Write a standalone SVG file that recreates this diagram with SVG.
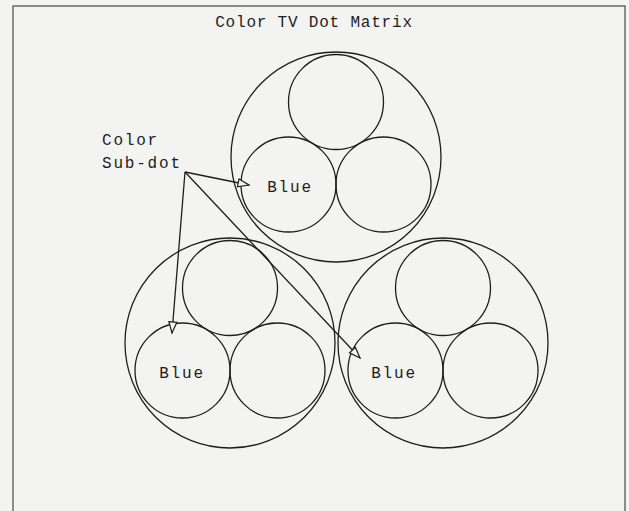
<svg xmlns="http://www.w3.org/2000/svg" width="629" height="511" viewBox="0 0 629 511">
<defs>
<style>
.c{fill:none;stroke:#1e1e1e;stroke-width:1.3}
.t{font-family:"Liberation Mono","DejaVu Sans Mono",monospace;font-size:16px;fill:#1e1e1e;letter-spacing:1.8px}
.title{letter-spacing:0.8px}
.a{fill:none;stroke:#1e1e1e;stroke-width:1.3}
</style>
<marker id="ah" markerWidth="14" markerHeight="12" refX="12" refY="5" orient="auto" markerUnits="userSpaceOnUse">
<path d="M1,1 L12,5 L1,9 Z" fill="#f3f3f1" stroke="#1e1e1e" stroke-width="1.2"/>
</marker>
</defs>
<rect x="0" y="0" width="629" height="511" fill="#f3f3f1"/>
<rect x="13" y="6" width="612" height="510" fill="none" stroke="#555" stroke-width="1.3"/>
<text class="t title" x="314" y="27" text-anchor="middle">Color TV Dot Matrix</text>
<g id="dot-top">
<circle class="c" cx="336" cy="157" r="105"/>
<circle class="c" cx="336" cy="102" r="47.5"/>
<circle class="c" cx="288.5" cy="184.5" r="47.5"/>
<circle class="c" cx="383.5" cy="184.5" r="47.5"/>
<text class="t" x="290" y="192" text-anchor="middle">Blue</text>
</g>
<g id="dot-left">
<circle class="c" cx="230" cy="343" r="105"/>
<circle class="c" cx="230" cy="288" r="47.5"/>
<circle class="c" cx="182.5" cy="370.5" r="47.5"/>
<circle class="c" cx="277.5" cy="370.5" r="47.5"/>
<text class="t" x="182" y="378" text-anchor="middle">Blue</text>
</g>
<g id="dot-right">
<circle class="c" cx="443" cy="343" r="105"/>
<circle class="c" cx="443" cy="288" r="47.5"/>
<circle class="c" cx="395.5" cy="370.5" r="47.5"/>
<circle class="c" cx="490.5" cy="370.5" r="47.5"/>
<text class="t" x="394" y="378" text-anchor="middle">Blue</text>
</g>
<g id="label">
<text class="t" x="102" y="145">Color</text>
<text class="t" x="102" y="168">Sub-dot</text>
</g>
<g id="connectors">
<line class="a" x1="185" y1="172" x2="249" y2="185" marker-end="url(#ah)"/>
<line class="a" x1="185" y1="172" x2="172" y2="333" marker-end="url(#ah)"/>
<line class="a" x1="185" y1="172" x2="360" y2="358" marker-end="url(#ah)"/>
</g>
</svg>
